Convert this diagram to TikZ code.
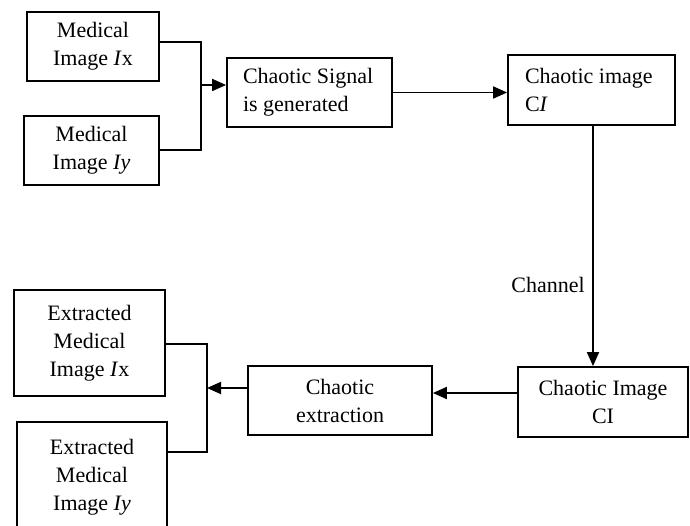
\documentclass[tikz,border=0pt]{standalone}
\usepackage{fontspec}
\setmainfont{Liberation Serif}
\usetikzlibrary{arrows.meta}
\begin{document}
\begin{tikzpicture}[x=1pt,y=-1pt,
  box/.style={draw,line width=1.8pt,inner sep=0pt,font=\fontsize{22}{28}\selectfont},
  lbl/.style={font=\fontsize{22}{28}\selectfont,inner sep=0pt},
  ln/.style={line width=1.8pt},
  arr/.style={line width=1.8pt,-{Triangle[length=14pt,width=12pt]}}]
\useasboundingbox (0,0) rectangle (690,526);
\begin{scope}
\clip (0,0) rectangle (690,526);
\node[box,minimum width=132pt,minimum height=69pt,align=center] (A) at (93,46.5) {Medical\\Image \textit{I}x};
\node[box,minimum width=135pt,minimum height=69pt,align=center] (B) at (91.5,150.5) {Medical\\Image \textit{Iy}};
\node[box,minimum width=165pt,minimum height=69pt,text width=133pt,align=flush left] (C) at (309.5,92.5) {Chaotic Signal\\is generated};
\node[box,minimum width=167pt,minimum height=70pt,text width=133pt,align=flush left] (D) at (591.5,90) {Chaotic image\\C\textit{I}};
\node[box,minimum width=170pt,minimum height=70pt,align=center] (E) at (603,402) {Chaotic Image\\CI};
\node[box,minimum width=184pt,minimum height=69pt,align=center] (F) at (340,400.5) {Chaotic\\extraction};
\node[box,minimum width=151pt,minimum height=106pt,align=center] (G) at (89.5,343) {Extracted\\Medical\\Image \textit{I}x};
\node[box,minimum width=150pt,minimum height=110pt,align=center] (H) at (92,477) {Extracted\\Medical\\Image \textit{Iy}};
\end{scope}
\node[lbl] (ch) at (548,285) {Channel};
% top bracket
\coordinate (j1) at (201,42);
\coordinate (j2) at (201,150);
\coordinate (j3) at (201,85);
\draw[ln] (A.east |- j1) -- (j1) -- (j2) -- (B.east |- j2);
\draw[arr] (j3) -- (C.west |- j3);
\draw[arr] (C.east) -- (D.west |- C.east);
% channel
\coordinate (v) at (593,0);
\draw[arr] (D.south -| v) -- (E.north -| v);
% bottom
\coordinate (h) at (0,393);
\draw[arr] (E.west |- h) -- (F.east |- h);
\coordinate (k1) at (207,344);
\coordinate (k2) at (207,452);
\coordinate (k3) at (207,388);
\draw[ln] (G.east |- k1) -- (k1) -- (k2) -- (H.east |- k2);
\draw[arr] (F.west |- k3) -- (k3);
\end{tikzpicture}
\end{document}
